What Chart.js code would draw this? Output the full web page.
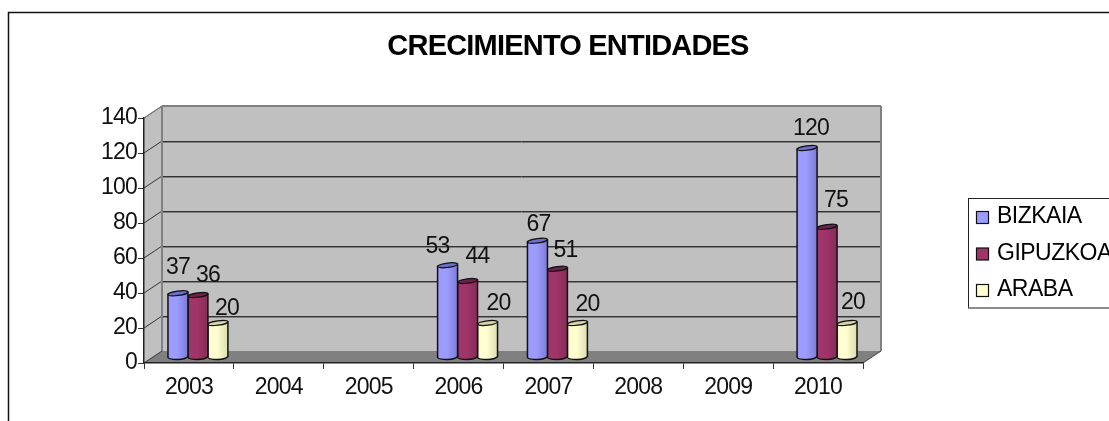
<!DOCTYPE html>
<html>
<head>
<meta charset="utf-8">
<title>Crecimiento entidades</title>
<script src="https://cdn.jsdelivr.net/npm/chart.js@4"></script>
<style>
    body { margin: 0; background: #fff; overflow: hidden; }
    canvas { display: block; }
</style>
</head>
<body>
<canvas id="chart" width="1109" height="421"></canvas>
<script>
// Chart data
const titleText = 'CRECIMIENTO ENTIDADES';
const years = ['2003', '2004', '2005', '2006', '2007', '2008', '2009', '2010'];
const bizkaia = [37, null, null, 53, 67, null, null, 120];
const gipuzkoa = [36, null, null, 44, 51, null, null, 75];
const araba = [20, null, null, 20, 20, null, null, 20];
const seriesNames = ['BIZKAIA', 'GIPUZKOA', 'ARABA'];

// Where the value labels sit relative to the top of their bar, [dx, dy] by year
const labelNudge = [
    { 0: [0, -26], 3: [-10, -19], 4: [1, -16], 7: [4, -19] },
    { 0: [10, -19], 3: [10, -24], 4: [8, -18], 7: [9, -26] },
    { 0: [9, -14], 3: [11, -19], 4: [10, -18], 7: [6, -20] }
];

// Colours per series: front light, front dark, top face
const barColors = [
    ['#9c9cff', '#7c7cd6', '#6e6ed0'],
    ['#a03569', '#862c58', '#70204a'],
    ['#ffffd2', '#dcdcae', '#d6d6a6']
];

const FONT = '"Liberation Sans", Arial, sans-serif';
const DEPTH_X = 18;
const DEPTH_Y = 12;

function line(ctx, x1, y1, x2, y2, color, width) {
    ctx.beginPath();
    ctx.moveTo(x1, y1);
    ctx.lineTo(x2, y2);
    ctx.strokeStyle = color;
    ctx.lineWidth = width;
    ctx.stroke();
}

function polygon(ctx, points, fill) {
    ctx.beginPath();
    points.forEach(function(p, i) {
        if (i === 0) ctx.moveTo(p[0], p[1]);
        else ctx.lineTo(p[0], p[1]);
    });
    ctx.closePath();
    ctx.fillStyle = fill;
    ctx.fill();
}

// Cylinder for one bar, drawn half way into the depth of the box
function drawCylinder(ctx, bar, colors) {
    const cx = bar.x + DEPTH_X / 2;
    const half = bar.width / 2;
    const top = bar.y - DEPTH_Y / 2 + 1;
    const bottom = bar.base - DEPTH_Y / 2 + 1;
    const gradient = ctx.createLinearGradient(cx - half, 0, cx + half, 0);
    gradient.addColorStop(0, colors[0]);
    gradient.addColorStop(0.45, colors[0]);
    gradient.addColorStop(1, colors[1]);

    ctx.beginPath();
    ctx.moveTo(cx - half, top + 1);
    ctx.lineTo(cx - half, bottom);
    ctx.quadraticCurveTo(cx - half + 1, bottom + 2, cx, bottom + 2);
    ctx.quadraticCurveTo(cx + half - 3, bottom + 2, cx + half, bottom - 1);
    ctx.lineTo(cx + half, top - 1);
    ctx.closePath();
    ctx.fillStyle = gradient;
    ctx.fill();
    ctx.strokeStyle = '#111';
    ctx.lineWidth = 1.5;
    ctx.stroke();

    ctx.beginPath();
    ctx.ellipse(cx, top, half, 2.2, -0.13, 0, Math.PI * 2);
    ctx.fillStyle = colors[2];
    ctx.fill();
    ctx.lineWidth = 1.2;
    ctx.stroke();
}

const excel3d = {
    id: 'excel3d',
    beforeDraw: function(chart) {
        const ctx = chart.ctx;
        const area = chart.chartArea;
        const y = chart.scales.y;
        const back = { left: area.left + DEPTH_X, right: area.right + DEPTH_X };

        // Outer frame, runs off the right and bottom of the picture
        line(ctx, 8, 12.5, chart.width, 12.5, '#111', 1.5);
        line(ctx, 8.5, 12, 8.5, chart.height, '#111', 1.5);

        // Title
        ctx.letterSpacing = '-0.8px';
        ctx.fillStyle = '#000';
        ctx.font = 'bold 29px ' + FONT;
        ctx.textAlign = 'center';
        ctx.textBaseline = 'middle';
        ctx.fillText(titleText, 568, 47);

        // Box walls and floor
        polygon(ctx, [[back.left, area.top - DEPTH_Y], [back.right, area.top - DEPTH_Y],
            [back.right, area.bottom - DEPTH_Y], [back.left, area.bottom - DEPTH_Y]], '#c0c0c0');
        polygon(ctx, [[area.left, area.top], [back.left, area.top - DEPTH_Y],
            [back.left, area.bottom - DEPTH_Y], [area.left, area.bottom]], '#c0c0c0');
        polygon(ctx, [[area.left, area.bottom], [area.right, area.bottom],
            [back.right, area.bottom - DEPTH_Y], [back.left, area.bottom - DEPTH_Y]], '#808080');

        // Grid lines follow the value scale across both walls
        y.ticks.forEach(function(tick) {
            const py = Math.round(y.getPixelForValue(tick.value));
            if (tick.value > 0 && tick.value < y.max) {
                line(ctx, back.left, py - DEPTH_Y + 0.5, back.right, py - DEPTH_Y + 0.5, '#333', 1);
                line(ctx, back.left, py - DEPTH_Y + 1.5, back.right, py - DEPTH_Y + 1.5, '#808080', 1);
            }
            line(ctx, area.left, py, back.left, py - DEPTH_Y, '#333', 1);
        });

        // Wall edges
        line(ctx, back.left, area.top - DEPTH_Y, back.right, area.top - DEPTH_Y, '#808080', 2);
        line(ctx, back.left, area.top - DEPTH_Y, back.left, area.bottom - DEPTH_Y, '#808080', 2);
        line(ctx, back.right, area.top - DEPTH_Y, back.right, area.bottom - DEPTH_Y, '#808080', 2);
        line(ctx, area.left, area.top, back.left, area.top - DEPTH_Y, '#808080', 1);
        line(ctx, area.right, area.bottom, back.right, area.bottom - DEPTH_Y, '#444', 1);

        // Legend
        ctx.fillStyle = '#fff';
        ctx.fillRect(968, 198, chart.width - 968, 110);
        line(ctx, 968.5, 198, 968.5, 308, '#222', 1);
        line(ctx, 968, 198.5, chart.width, 198.5, '#222', 1);
        line(ctx, 968, 308, chart.width, 308, '#666', 1.5);
        ctx.letterSpacing = '-0.5px';
        seriesNames.forEach(function(name, i) {
            const rowY = 218 + i * 36.5;
            ctx.fillStyle = barColors[i][0];
            ctx.fillRect(976.5, rowY - 6.5, 12, 12);
            ctx.strokeStyle = '#111';
            ctx.lineWidth = 1.2;
            ctx.strokeRect(976.5, rowY - 6.5, 12, 12);
            ctx.fillStyle = '#000';
            ctx.font = '23px ' + FONT;
            ctx.textAlign = 'left';
            ctx.fillText(name, 997, rowY - 1);
        });

        // Axis tick labels are tighter than the default spacing
        ctx.letterSpacing = '-0.8px';
    },
    beforeDatasetDraw: function(chart, args) {
        const ctx = chart.ctx;
        const values = chart.data.datasets[args.index].data;
        ctx.save();
        args.meta.data.forEach(function(bar, i) {
            if (values[i] !== null) drawCylinder(ctx, bar, barColors[args.index]);
        });
        ctx.restore();
        return false;
    },
    afterDatasetsDraw: function(chart) {
        const ctx = chart.ctx;
        ctx.save();
        ctx.font = '23px ' + FONT;
        ctx.fillStyle = '#111';
        ctx.textAlign = 'center';
        ctx.textBaseline = 'middle';
        chart.data.datasets.forEach(function(dataset, s) {
            chart.getDatasetMeta(s).data.forEach(function(bar, i) {
                if (dataset.data[i] === null) return;
                const nudge = labelNudge[s][i];
                const top = bar.y - DEPTH_Y / 2 + 1;
                ctx.fillText(dataset.data[i], bar.x + DEPTH_X / 2 + nudge[0], top + nudge[1]);
            });
        });
        ctx.restore();
    }
};

document.addEventListener('DOMContentLoaded', function() {
    new Chart(document.getElementById('chart'), {
        type: 'bar',
        data: {
            labels: years,
            datasets: [
                { label: seriesNames[0], data: bizkaia, backgroundColor: barColors[0][0] },
                { label: seriesNames[1], data: gipuzkoa, backgroundColor: barColors[1][0] },
                { label: seriesNames[2], data: araba, backgroundColor: barColors[2][0] }
            ]
        },
        plugins: [excel3d],
        options: {
            responsive: false,
            animation: false,
            layout: { padding: { left: 0, right: 246, top: 118, bottom: 0 } },
            plugins: { legend: { display: false }, title: { display: false }, tooltip: { enabled: false } },
            datasets: { bar: { categoryPercentage: 0.667, barPercentage: 1 } },
            scales: {
                x: {
                    afterFit: function(scale) { scale.height = 58; },
                    grid: { drawOnChartArea: false, tickLength: 6, tickColor: '#333' },
                    border: { color: '#222', width: 1.5 },
                    ticks: { color: '#111', padding: 5, maxRotation: 0, autoSkip: false, font: { family: FONT, size: 23 } }
                },
                y: {
                    min: 0,
                    max: 140,
                    afterFit: function(scale) { scale.width = 144; },
                    grid: { drawOnChartArea: false, tickLength: 6, tickColor: '#333' },
                    border: { color: '#222', width: 1.5 },
                    ticks: { stepSize: 20, color: '#111', padding: 1, font: { family: FONT, size: 23 } }
                }
            }
        }
    });
});
</script>
</body>
</html>
